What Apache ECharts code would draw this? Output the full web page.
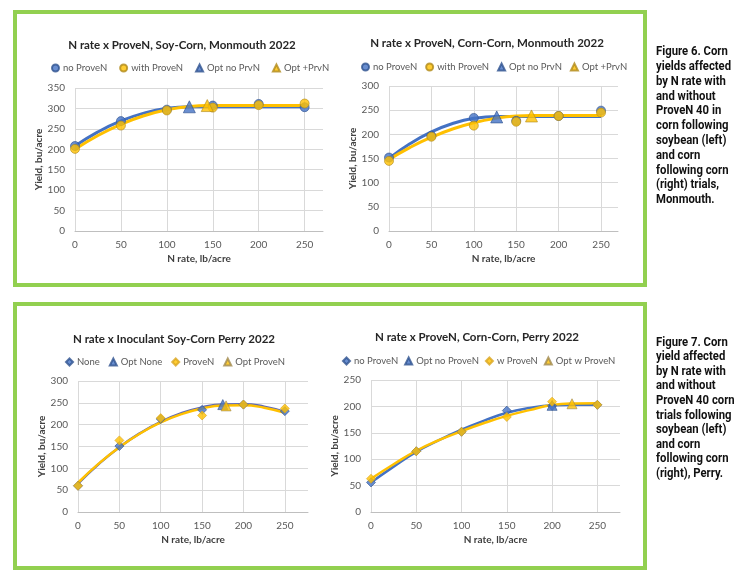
<!DOCTYPE html>
<html><head><meta charset="utf-8">
<script src="https://cdn.jsdelivr.net/npm/echarts@6/dist/echarts.min.js"></script>
<style>html,body{margin:0;padding:0;background:#fff}#c{width:736px;height:577px}</style>
</head><body><div id="c"></div>
<script>
// ---------- data ----------
const nRates = [0, 50, 100, 150, 200, 250];
const xTicks = [0, 50, 100, 150, 200, 250];

// Chart 1: Soy-Corn, Monmouth 2022
const c1Title = 'N rate x ProveN, Soy-Corn, Monmouth 2022';
const c1Legend = ['no ProveN', 'with ProveN', 'Opt no PrvN', 'Opt +PrvN'];
const c1NoProveN = [208, 269, 297, 307, 311, 303];
const c1WithProveN = [201, 258, 295, 302, 308, 312];
const c1OptNo = [124.5, 304];
const c1OptPrv = [144, 307];
const c1CurveNoX = [0, 25, 50, 75, 100, 125, 150, 200, 250];
const c1CurveNoY = [208, 242.6, 269.4, 288.6, 300.2, 304, 304, 304, 304];
const c1CurveWX = [0, 25, 50, 75, 100, 125, 145, 200, 250];
const c1CurveWY = [200, 233.7, 261.1, 282.1, 296.7, 305, 307, 307, 307];

// Chart 2: Corn-Corn, Monmouth 2022
const c2Title = 'N rate x ProveN, Corn-Corn, Monmouth 2022';
const c2Legend = ['no ProveN', 'with ProveN', 'Opt no PrvN', 'Opt +PrvN'];
const c2NoProveN = [152, 197, 234, 228, 238, 249];
const c2WithProveN = [145, 195, 218, 226, 238, 245];
const c2OptNo = [127, 236];
const c2OptPrv = [168, 238];
const c2CurveNoX = [0, 25, 50, 75, 100, 127, 175, 250];
const c2CurveNoY = [150, 180.9, 205, 222.4, 233.1, 237, 237, 237];
const c2CurveWX = [0, 25, 50, 75, 100, 125, 150, 168, 210, 250];
const c2CurveWY = [148, 173.1, 194.1, 211.1, 224.1, 233, 238, 239, 239, 239];

// Chart 3: Inoculant Soy-Corn Perry 2022
const c3Title = 'N rate x Inoculant Soy-Corn Perry 2022';
const c3Legend = ['None', 'Opt None', 'ProveN', 'Opt ProveN'];
const c3None = [60, 151, 213, 234, 246, 231];
const c3ProveN = [60, 164, 215, 221, 246, 237];
const c3OptNone = [175, 246];
const c3OptProveN = [179, 243];
const c3CurveX = [0, 25, 50, 75, 100, 125, 150, 175, 200, 225, 250];
const c3CurveNoneY = [65, 109.8, 148.4, 180.6, 206.5, 226.1, 239.4, 246.3, 247, 241.3, 229.4];
const c3CurveProveNY = [67, 110.7, 148.4, 179.8, 205, 224.1, 237.1, 243.8, 244.5, 238.8, 227.2];

// Chart 4: Corn-Corn, Perry 2022
const c4Title = 'N rate x ProveN, Corn-Corn, Perry 2022';
const c4Legend = ['no ProveN', 'Opt no ProveN', 'w ProveN', 'Opt w ProveN'];
const c4NoProveN = [56, 115, 152, 192, 201, 203];
const c4WProveN = [63, 115, 152, 180, 209, 203];
const c4OptNo = [200, 202];
const c4OptW = [222, 205];
const c4CurveX = [0, 25, 50, 75, 100, 125, 150, 175, 200, 225, 250];
const c4CurveNoY = [56, 86, 114, 136, 156, 173, 188, 197, 202, 203, 203];
const c4CurveWY = [63, 90.5, 116, 136, 153, 168.5, 182, 193, 202.5, 205.5, 206];

const fig6Caption = ['Figure 6. Corn', 'yields affected', 'by N rate with', 'and without', 'ProveN 40 in',
  'corn following', 'soybean (left)', 'and corn', 'following corn', '(right) trials,', 'Monmouth.'];
const fig7Caption = ['Figure 7. Corn', 'yield affected', 'by N rate with', 'and without', 'ProveN 40 corn',
  'trials following', 'soybean (left)', 'and corn', 'following corn', '(right), Perry.'];

// ---------- styling / build ----------
const F = 'Lato, "Open Sans", sans-serif';
const CAP = 'Roboto, "Liberation Sans", sans-serif';
const BLUE = '#4472C4', BLUE_D = '#2F528F', YEL = '#FFC000', YEL_D = '#B08A1A';

const pts = (xs, ys) => xs.map((x, i) => [x, ys[i]]);

const grids = [
  {left: 75, top: 88, width: 248, height: 143},
  {left: 389, top: 86, width: 229, height: 145},
  {left: 78, top: 381, width: 230, height: 131},
  {left: 371, top: 380, width: 249, height: 132}
];
const xMax = [270, 270, 278, 275];
const yMax = [350, 300, 300, 250];
const yNameGap = [25, 25, 26, 25];

const xAxes = grids.map((g, i) => ({
  gridIndex: i, type: 'value', min: 0, max: xMax[i], interval: 50,
  name: 'N rate, lb/acre', nameLocation: 'middle', nameGap: 23,
  nameTextStyle: {fontFamily: F, fontSize: 10, fontWeight: 'bold', color: '#404040'},
  axisLine: {lineStyle: {color: '#BFBFBF'}}, axisTick: {show: false},
  axisLabel: {margin: 9, color: '#595959', fontFamily: F, fontSize: 10,
    formatter: v => (xTicks.indexOf(v) >= 0 ? String(v) : '')},
  splitLine: {show: true, showMaxLine: false, lineStyle: {color: '#D9D9D9'}}
}));
const yAxes = grids.map((g, i) => ({
  gridIndex: i, type: 'value', min: 0, max: yMax[i], interval: 50,
  name: 'Yield, bu/acre', nameLocation: 'middle', nameGap: yNameGap[i],
  nameTextStyle: {fontFamily: F, fontSize: 10, fontWeight: 'bold', color: '#404040'},
  axisLine: {show: false}, axisTick: {show: false},
  axisLabel: {margin: 10, color: '#595959', fontFamily: F, fontSize: 10},
  splitLine: {show: true, lineStyle: {color: '#D9D9D9'}}
}));

const series = [];
function curve(i, key, xs, ys, color, w) {
  series.push({name: i + '|' + key, type: 'line', xAxisIndex: i, yAxisIndex: i, data: pts(xs, ys),
    symbol: 'none', smooth: 0.5, lineStyle: {color: color, width: w}, z: 2, silent: true});
}
function scat(i, name, data, symbol, size, color, border) {
  series.push({name: i + '|' + name, type: 'scatter', xAxisIndex: i, yAxisIndex: i, data: data,
    symbol: symbol, symbolSize: size, itemStyle: {color: color, borderColor: border, borderWidth: 0.8}, z: 3});
}
// chart 1
curve(0, 'fitNo', c1CurveNoX, c1CurveNoY, BLUE, 3);
curve(0, 'fitW', c1CurveWX, c1CurveWY, YEL, 3);
scat(0, c1Legend[0], pts(nRates, c1NoProveN), 'circle', 9, BLUE, BLUE_D);
scat(0, c1Legend[1], pts(nRates, c1WithProveN), 'circle', 9, YEL, YEL_D);
scat(0, c1Legend[2], [c1OptNo], 'triangle', 12, BLUE, BLUE_D);
scat(0, c1Legend[3], [c1OptPrv], 'triangle', 12, YEL, YEL_D);
// chart 2
curve(1, 'fitNo', c2CurveNoX, c2CurveNoY, BLUE, 3);
curve(1, 'fitW', c2CurveWX, c2CurveWY, YEL, 3);
scat(1, c2Legend[0], pts(nRates, c2NoProveN), 'circle', 9, BLUE, BLUE_D);
scat(1, c2Legend[1], pts(nRates, c2WithProveN), 'circle', 9, YEL, YEL_D);
scat(1, c2Legend[2], [c2OptNo], 'triangle', 12, BLUE, BLUE_D);
scat(1, c2Legend[3], [c2OptPrv], 'triangle', 12, YEL, YEL_D);
// chart 3
curve(2, 'fitNone', c3CurveX, c3CurveNoneY, '#5F68B4', 2.5);
curve(2, 'fitProveN', c3CurveX, c3CurveProveNY, YEL, 2.5);
scat(2, c3Legend[0], pts(nRates, c3None), 'diamond', 9, BLUE, BLUE_D);
scat(2, c3Legend[1], [c3OptNone], 'triangle', 10, BLUE, BLUE_D);
scat(2, c3Legend[2], pts(nRates, c3ProveN), 'diamond', 9, YEL, '#D9A520');
scat(2, c3Legend[3], [c3OptProveN], 'triangle', 10, YEL, '#A08A50');
// chart 4
curve(3, 'fitNo', c4CurveX, c4CurveNoY, BLUE, 2.5);
curve(3, 'fitW', c4CurveX, c4CurveWY, YEL, 2.5);
scat(3, c4Legend[0], pts(nRates, c4NoProveN), 'diamond', 9, BLUE, BLUE_D);
scat(3, c4Legend[1], [c4OptNo], 'triangle', 10, BLUE, BLUE_D);
scat(3, c4Legend[2], pts(nRates, c4WProveN), 'diamond', 9, YEL, '#D9A520');
scat(3, c4Legend[3], [c4OptW], 'triangle', 10, YEL, '#A08A50');

const titles = [[c1Title, 182, 39], [c2Title, 487, 37], [c3Title, 174, 333], [c4Title, 477, 331]].map(t => ({
  text: t[0], left: t[1], top: t[2], textAlign: 'center', padding: 0,
  textStyle: {fontFamily: F, fontSize: 11.5, fontWeight: 'bold', color: '#262626'}
}));
const legendDefs = [[c1Legend, 51, 63, 12], [c2Legend, 361, 62, 8], [c3Legend, 65, 357, 9], [c4Legend, 342, 356, 6]];
const legends = legendDefs.map((d, i) => ({
  data: d[0].map(n => i + '|' + n), left: d[1], top: d[2], padding: 0, itemGap: d[3],
  itemWidth: 7, itemHeight: 7, selectedMode: false,
  formatter: n => n.split('|')[1],
  textStyle: {fontFamily: F, fontSize: 9.5, color: '#595959', padding: [0, 0, 0, -1]}
}));

const capStyle = {font: 'bold 13px ' + CAP, fill: '#111'};
const graphic = [
  {type: 'rect', shape: {x: 15, y: 12, width: 630, height: 273}, style: {fill: 'none', stroke: '#92D050', lineWidth: 4}, silent: true},
  {type: 'rect', shape: {x: 15, y: 304, width: 630, height: 264}, style: {fill: 'none', stroke: '#92D050', lineWidth: 4}, silent: true},
  {type: 'text', x: 656, y: 44.6, scaleX: 0.87, style: Object.assign({text: fig6Caption.join('\n'), lineHeight: 14.8}, capStyle), silent: true},
  {type: 'text', x: 656, y: 335, scaleX: 0.87, style: Object.assign({text: fig7Caption.join('\n'), lineHeight: 14.6}, capStyle), silent: true}
];

const chart = echarts.init(document.getElementById('c'), null, {renderer: 'canvas'});
chart.setOption({
  animation: false, backgroundColor: '#fff',
  title: titles, legend: legends, grid: grids, xAxis: xAxes, yAxis: yAxes, series: series, graphic: graphic
});
</script>
</body></html>
